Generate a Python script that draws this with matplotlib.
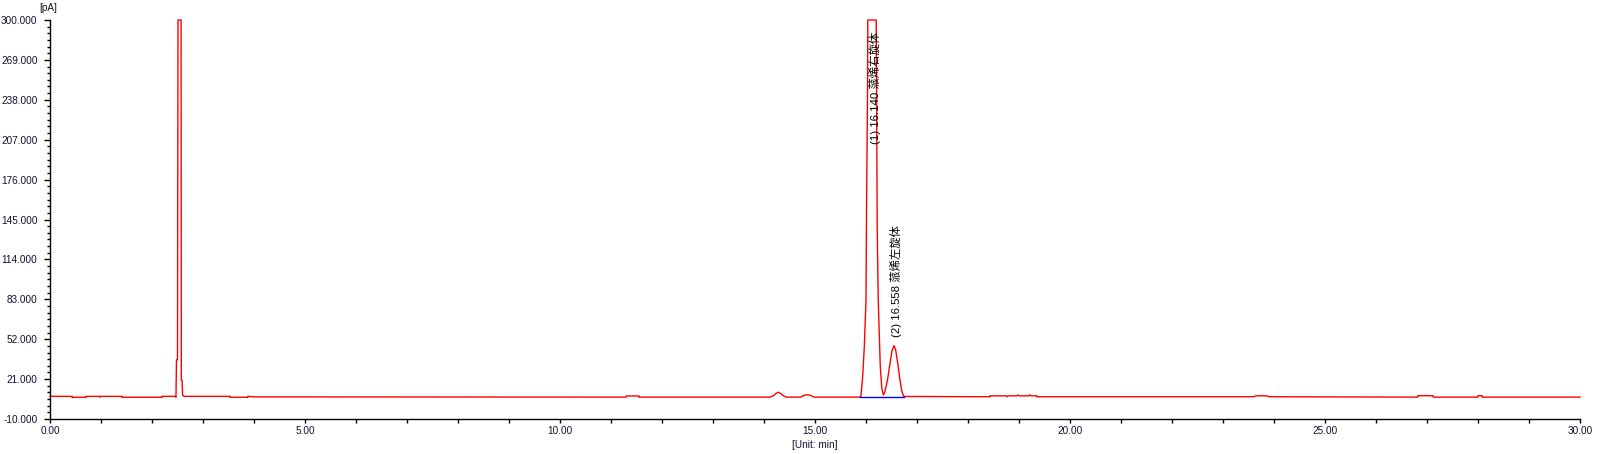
import matplotlib
matplotlib.use("Agg")
import matplotlib.pyplot as plt
from matplotlib.ticker import AutoMinorLocator, FormatStrFormatter

plt.rcParams['font.family'] = ['Liberation Sans', 'Noto Sans CJK SC', 'DejaVu Sans']

# trace vertices (time in min, signal in pA)
time = [0.00, 0.43, 0.43, 0.71, 0.71, 0.97, 0.98, 0.99, 1.41, 1.41, 2.20, 2.20,
        2.46, 2.47, 2.48, 2.50, 2.51, 2.57, 2.575, 2.59, 2.60, 2.63,
        3.53, 3.53, 3.88, 3.88, 4.00,
        11.30, 11.30, 11.55, 11.55,
        14.12, 14.18, 14.24, 14.28, 14.33, 14.38, 14.44,
        14.72, 14.78, 14.86, 14.92, 14.98,
        15.86, 15.90, 15.935, 15.967, 16.00, 16.01, 16.03, 16.035,
        16.20, 16.22, 16.24, 16.26, 16.28, 16.31, 16.34,
        16.37, 16.42, 16.47, 16.51, 16.55, 16.58, 16.62, 16.66, 16.70, 16.74,
        18.43, 18.43, 18.75, 18.77, 18.79, 18.96, 18.98, 19.00, 19.19, 19.21,
        19.23, 19.35, 19.35,
        23.60, 23.65, 23.85, 23.90,
        26.82, 26.82, 27.12, 27.12, 28.00, 28.00, 28.08, 28.08, 30.00]
signal = [7.6, 7.6, 6.9, 6.9, 7.6, 7.6, 6.9, 7.6, 7.6, 6.9, 6.9, 7.6,
          7.6, 6.9, 36.0, 36.0, 300.0, 300.0, 20.0, 20.0, 8.5, 7.6,
          7.6, 6.9, 6.9, 7.6, 7.2,
          7.0, 7.9, 7.9, 7.0,
          7.0, 8.0, 10.0, 10.8, 9.8, 8.0, 7.0,
          7.0, 8.4, 8.8, 8.2, 7.0,
          7.0, 7.5, 22.9, 46.2, 82.5, 150.8, 244.0, 300.0,
          300.0, 138.0, 82.5, 56.8, 30.6, 14.0, 8.7,
          11.0, 20.0, 33.0, 43.0, 47.0, 44.0, 34.0, 22.0, 12.0, 7.5,
          7.3, 8.0, 8.0, 7.3, 8.0, 8.0, 8.7, 8.0, 8.0, 8.7,
          8.0, 8.0, 7.3,
          7.3, 8.0, 8.0, 7.3,
          7.0, 8.1, 8.1, 7.0, 7.0, 8.1, 8.1, 7.0, 7.0]

# integration baseline under the two labelled peaks
base_t = [15.88, 16.75]
base_v = [6.9, 6.9]

peak_rt = [16.140, 16.558]
peak_names = ['(1) 16.140 蒎烯右旋体', '(2) 16.558 蒎烯左旋体']
label_y = [204.0, 54.0]
label_dx = [0.04, 0.03]

y_ticks = [-10, 21, 52, 83, 114, 145, 176, 207, 238, 269, 300]
x_ticks = [0, 5, 10, 15, 20, 25, 30]

fig = plt.figure(figsize=(15.99, 4.54), dpi=100)
ax = fig.add_axes([50/1599, 1 - 419/454, 1530/1599, 399/454])

ax.plot(time, signal, color='#ff0000', lw=1.0, clip_on=False)
ax.plot(base_t, base_v, color='#0000ff', lw=1.0)

for rt, name, ly, dx in zip(peak_rt, peak_names, label_y, label_dx):
    ax.text(rt + dx, ly, name, rotation=90, ha='center', va='bottom',
            fontsize=8.2, color='black')

ax.set_xlim(0, 30)
ax.set_ylim(-10, 300)
ax.set_xticks(x_ticks)
ax.set_yticks(y_ticks)
ax.xaxis.set_major_formatter(FormatStrFormatter('%.2f'))
ax.yaxis.set_major_formatter(FormatStrFormatter('%.3f'))
ax.xaxis.set_minor_locator(AutoMinorLocator(5))
ax.yaxis.set_minor_locator(AutoMinorLocator(6))

for s in ['top', 'right']:
    ax.spines[s].set_visible(False)
for s in ['left', 'bottom']:
    ax.spines[s].set_linewidth(1.0)
    ax.spines[s].set_color('black')

ax.tick_params(axis='x', which='both', direction='out', length=3, width=1,
               labelsize=7.2, pad=2, colors='black', labelcolor='#101030')
ax.tick_params(axis='y', which='major', direction='out', length=4, width=1,
               labelsize=7.2, pad=5, colors='black', labelcolor='#101030')
ax.tick_params(axis='y', which='minor', direction='out', length=2.2, width=1)

ax.set_xlabel('[Unit: min]', fontsize=7.2, labelpad=3, color='#101030')
fig.text(48/1599, 1 - 8/454, '[pA]', fontsize=7.2, ha='center', va='center',
         color='#101030')

fig.savefig('out.png', dpi=100)
